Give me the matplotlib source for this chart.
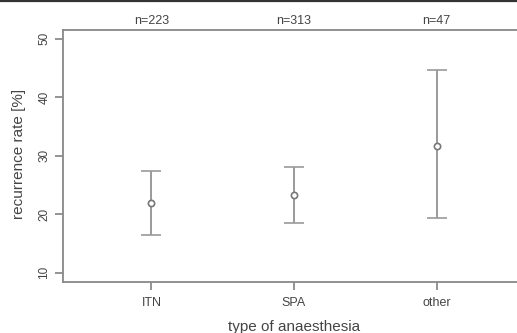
import matplotlib
matplotlib.use("Agg")
import matplotlib.pyplot as plt
from matplotlib.lines import Line2D

categories = ["ITN", "SPA", "other"]
n_labels = ["n=223", "n=313", "n=47"]
rate = [22.0, 23.3, 31.7]
lower = [16.5, 18.5, 19.3]
upper = [27.4, 28.15, 44.6]
yticks = [10, 20, 30, 40, 50]

plt.rcParams['font.family'] = ['Liberation Sans', 'DejaVu Sans']

fig = plt.figure(figsize=(5.17, 3.33), dpi=100)
ax = fig.add_axes([63/517, 1-282/333, (525-63)/517, (282-29.5)/333])

x = list(range(1, len(categories)+1))
err_lo = [r - l for r, l in zip(rate, lower)]
err_hi = [u - r for r, u in zip(rate, upper)]
ax.errorbar(x, rate, yerr=[err_lo, err_hi], fmt='o', color='#8a8a8a',
            ecolor='#9a9a9a', elinewidth=1.4, capsize=7.5, capthick=1.4,
            markersize=4.5, markerfacecolor='white', markeredgecolor='#777777',
            markeredgewidth=1.2)

ax.set_xlim(0.38, 3.62)
ax.set_ylim(8.4, 51.6)
ax.set_xticks(x)
ax.set_xticklabels(categories, fontsize=9, color='#444444')
ax.set_yticks(yticks)
ax.set_yticklabels([str(v) for v in yticks], fontsize=8.5, color='#444444',
                   rotation=90, va='center')
ax.tick_params(axis='both', length=6, width=1.1, color='#777777', pad=3)
ax.tick_params(axis='x', pad=5)

for sp in ax.spines.values():
    sp.set_color('#888888')
    sp.set_linewidth(1.3)

for xi, lab in zip(x, n_labels):
    ax.text(xi, 1.01, lab, transform=ax.get_xaxis_transform(),
            ha='center', va='bottom', fontsize=9, color='#444444')

ax.set_xlabel("type of anaesthesia", fontsize=11, color='#444444', labelpad=8)
fig.text(19/517, 1-154/333, "recurrence rate [%]", rotation=90,
         ha='center', va='center', fontsize=11, color='#444444')

fig.add_artist(Line2D([0, 1], [1-1/333, 1-1/333], transform=fig.transFigure,
                      color='#333333', linewidth=1.6))

fig.savefig("out.png", dpi=100)
